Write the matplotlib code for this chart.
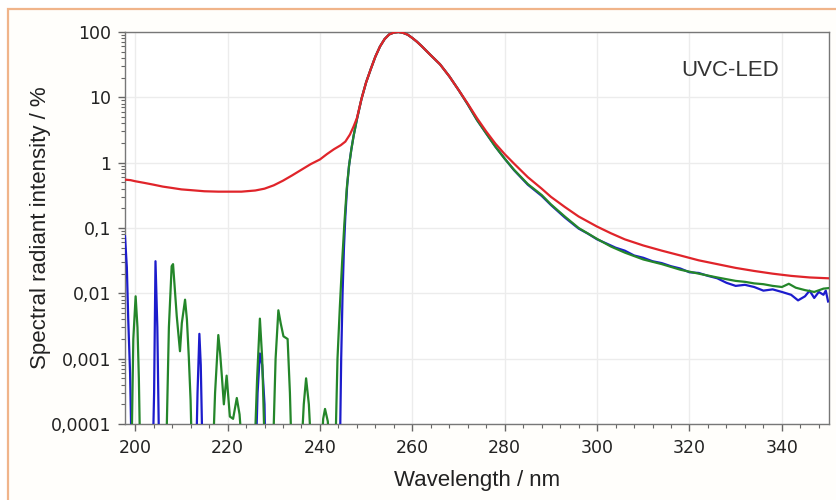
import matplotlib
matplotlib.use("Agg")
import matplotlib.pyplot as plt
from matplotlib.patches import Rectangle
from matplotlib.ticker import FixedLocator, MultipleLocator, LogLocator, NullFormatter

# ---------------- data ----------------
red_nm = [197.8, 199, 200, 202, 204, 206, 208, 210, 212, 215, 218, 220, 223, 226, 228,
          230, 232, 234, 236, 238, 240, 241.5, 243, 244.5, 245.5, 246.5, 247.3, 248,
          249, 250, 251, 252, 253, 254, 255, 256, 257, 258, 259, 260, 261, 262, 264,
          266, 268, 270, 272, 274, 276, 278, 280, 282, 285, 288, 290, 293, 296, 300,
          303, 306, 310, 314, 318, 322, 326, 330, 334, 338, 342, 346, 350]
red_val = [0.55, 0.54, 0.52, 0.49, 0.46, 0.43, 0.41, 0.39, 0.38, 0.365, 0.36, 0.36, 0.36,
           0.375, 0.40, 0.45, 0.53, 0.64, 0.78, 0.95, 1.12, 1.35, 1.6, 1.85, 2.1, 2.7,
           3.6, 4.8, 9.5, 17, 27, 42, 60, 78, 92, 98, 100, 97, 91, 81, 71, 61, 44, 32,
           21, 13, 8.0, 4.8, 3.0, 1.95, 1.35, 0.97, 0.60, 0.40, 0.30, 0.21, 0.15, 0.105,
           0.083, 0.067, 0.054, 0.045, 0.038, 0.032, 0.028, 0.0245, 0.022, 0.020, 0.0185,
           0.0175, 0.017]

green_nm = [199.2, 199.6, 200.1, 200.5, 200.8, 201.1,
            206.7, 207.3, 207.9, 208.2, 209.0, 209.7, 210.1, 210.8, 211.2, 211.6, 212.0, 212.3,
            216.8, 217.3, 218.0, 218.4, 218.8, 219.2, 219.8, 220.5, 221.2, 222.0, 222.6, 223.3,
            225.8, 226.4, 227.0, 227.5, 228.1,
            229.8, 230.4, 231.0, 231.5, 232.1, 233.0, 233.5, 233.9,
            235.9, 236.5, 237.0, 237.6, 238.2,
            240.2, 240.7, 241.1, 241.7, 242.2,
            243.3, 243.8, 244.3, 244.8, 245.3, 245.8, 246.3, 246.8, 247.3, 248,
            249, 250, 251, 252, 253, 254, 255, 256, 257, 258, 259, 260, 261, 262, 264,
            266, 268, 270, 272, 274, 276, 278, 280, 282, 285, 288, 290, 293, 296, 300,
            303, 306, 310, 314, 318, 322, 326, 330, 332, 334, 336, 338, 340, 341.5, 343,
            345, 347, 349, 350]
green_val = [3e-5, 0.002, 0.009, 0.003, 0.0005, 3e-5,
             3e-5, 0.003, 0.026, 0.028, 0.0045, 0.0013, 0.0035, 0.008, 0.004, 0.0011, 0.00023, 3e-5,
             3e-5, 0.0003, 0.0023, 0.0012, 0.0005, 0.0002, 0.00055, 0.00013, 0.00012, 0.00025, 0.00014, 3e-5,
             3e-5, 0.0005, 0.0041, 0.001, 3e-5,
             3e-5, 0.001, 0.0055, 0.0035, 0.0022, 0.002, 0.0003, 3e-5,
             3e-5, 0.0002, 0.0005, 0.0002, 3e-5,
             3e-5, 0.00012, 0.00017, 0.00011, 3e-5,
             3e-5, 0.001, 0.006, 0.03, 0.12, 0.4, 0.9, 1.6, 2.6, 4.6,
             9.5, 17, 27, 42, 60, 78, 92, 98, 100, 97, 91, 81, 71, 61, 44, 32, 21, 13,
             7.8, 4.5, 2.8, 1.75, 1.15, 0.78, 0.47, 0.32, 0.23, 0.15, 0.10, 0.068, 0.052,
             0.042, 0.033, 0.028, 0.023, 0.020, 0.0175, 0.0155, 0.015, 0.0142, 0.0138,
             0.013, 0.0125, 0.014, 0.0122, 0.0112, 0.0105, 0.0118, 0.012]

blue_nm = [197.8, 198.2, 198.5, 198.9, 199.25,
           203.8, 204.1, 204.4, 204.8, 205.2,
           213.2, 213.5, 213.9, 214.2, 214.6,
           226.1, 226.5, 227.0, 227.5, 228.0, 228.2,
           244.3, 244.6, 244.9, 245.2, 245.5, 245.9, 246.3, 246.8, 247.3, 248,
           249, 250, 251, 252, 253, 254, 255, 256, 257, 258, 259, 260, 261, 262, 264,
           266, 268, 270, 272, 274, 276, 278, 280, 282, 285, 288, 290, 293, 296, 298,
           300, 302, 304, 306, 308, 310, 312, 314, 316, 318, 320, 322, 324, 326, 328,
           330, 332, 334, 336, 338, 340, 342, 343.5, 345, 346, 347, 348, 349, 349.5, 350]
blue_val = [0.075, 0.025, 0.004, 0.0006, 3e-5,
            3e-5, 0.0003, 0.031, 0.003, 3e-5,
            3e-5, 0.0003, 0.0024, 0.0008, 3e-5,
            3e-5, 0.0003, 0.0012, 0.0008, 0.0002, 3e-5,
            3e-5, 0.001, 0.01, 0.05, 0.15, 0.45, 0.9, 1.6, 2.6, 4.6,
            9.5, 17, 27, 42, 60, 78, 92, 98, 100, 97, 91, 81, 71, 61, 44, 32, 21, 13,
            7.8, 4.5, 2.8, 1.75, 1.15, 0.77, 0.46, 0.31, 0.225, 0.145, 0.098, 0.082,
            0.067, 0.058, 0.050, 0.045, 0.038, 0.035, 0.031, 0.029, 0.026, 0.024, 0.021,
            0.0205, 0.0185, 0.017, 0.0145, 0.013, 0.0135, 0.0125, 0.011, 0.0115, 0.0105,
            0.0095, 0.0078, 0.009, 0.011, 0.0085, 0.0105, 0.0095, 0.011, 0.0075]

x_ticks = [200, 220, 240, 260, 280, 300, 320, 340]
y_ticks = [0.0001, 0.001, 0.01, 0.1, 1, 10, 100]
y_tick_labels = ["0,0001", "0,001", "0,01", "0,1", "1", "10", "100"]

# ---------------- figure ----------------
fig = plt.figure(figsize=(8.37, 5.0), dpi=100, facecolor="white")
# orange outer frame (cut off at right and bottom like the reference)
frame_top = 1 - 9 / 500
fig.patches.append(Rectangle((8 / 837, -0.2), 1.2, frame_top + 0.2, transform=fig.transFigure,
                             facecolor="#fffefb", edgecolor="#f0b48a", linewidth=1.6, zorder=-10))

ax = fig.add_axes([125 / 837, 1 - 424 / 500, (829 - 125) / 837, (424 - 32) / 500])
ax.set_facecolor("white")

ax.plot(blue_nm, blue_val, color="#1c1ccc", lw=1.6, zorder=3)
ax.plot(green_nm, green_val, color="#24862a", lw=1.6, zorder=4)
ax.plot(red_nm, red_val, color="#e0242a", lw=1.6, zorder=5)

ax.set_yscale("log")
ax.set_xlim(197.8, 350.2)
ax.set_ylim(0.0001, 100)

ax.xaxis.set_major_locator(FixedLocator(x_ticks))
ax.xaxis.set_minor_locator(MultipleLocator(4))
ax.set_yticks(y_ticks)
ax.set_yticklabels(y_tick_labels)
ax.yaxis.set_minor_locator(LogLocator(base=10, subs=[2, 3, 4, 5, 6, 7, 8, 9], numticks=20))
ax.yaxis.set_minor_formatter(NullFormatter())

ax.grid(True, which="major", color="#ececec", lw=1.0, zorder=0)
ax.set_axisbelow(True)

for s in ax.spines.values():
    s.set_color("#777777")
    s.set_linewidth(1.0)

ax.tick_params(axis="both", which="major", direction="out", length=5, width=1,
               color="#666666", labelsize=12.5, labelcolor="#222222")
ax.tick_params(axis="x", which="major", pad=6)
ax.tick_params(axis="y", which="major", pad=5)
ax.tick_params(axis="both", which="minor", direction="out", length=3, width=0.8,
               color="#666666")
for lab in ax.get_xticklabels() + ax.get_yticklabels():
    lab.set_family("DejaVu Sans")

ax.set_xlabel("Wavelength / nm", fontsize=16, family="Liberation Sans", color="#222222",
              labelpad=9)
ax.set_ylabel("Spectral radiant intensity / %", fontsize=16, family="Liberation Sans",
              color="#222222", labelpad=0)

ax.text(730 / 837, 1 - 70 / 500, "UVC-LED", transform=fig.transFigure, ha="center",
        va="center", fontsize=16, family="Liberation Sans", color="#333333")

fig.savefig("out.png", dpi=100, facecolor=fig.get_facecolor())
